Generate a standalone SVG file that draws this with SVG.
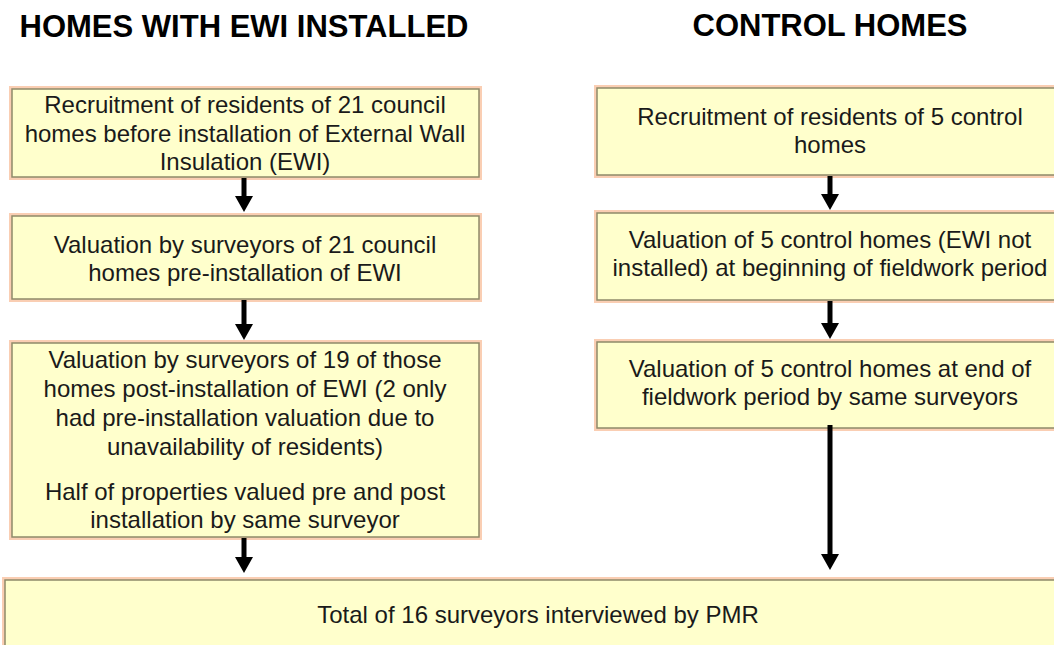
<svg xmlns="http://www.w3.org/2000/svg" width="1054" height="645" viewBox="0 0 1054 645">
<style>
.box{fill:#FFFFCC;stroke:#8f8a6a;stroke-width:1.5}
.glow{fill:none;stroke:#f9c2a0;stroke-width:6;stroke-opacity:0.8}
.t{font-family:"Liberation Sans",Arial,sans-serif;font-size:24px;fill:#1a1a1a;text-anchor:middle}
.h{font-family:"Liberation Sans",Arial,sans-serif;font-size:31px;font-weight:bold;fill:#000;text-anchor:middle}
.c{stroke:#000;stroke-width:5;fill:none}
.ah{fill:#000}
</style>
<rect width="1054" height="645" fill="#fff"/>
<g id="headers">
<text class="h" x="244" y="37">HOMES WITH EWI INSTALLED</text>
<text class="h" x="830" y="36">CONTROL HOMES</text>
</g>
<g id="L1">
<rect class="glow" x="12" y="89" width="467" height="88"/>
<rect class="box" x="12" y="89" width="467" height="88"/>
<text class="t" x="245" y="113">Recruitment of residents of 21 council</text>
<text class="t" x="245" y="142">homes before installation of External Wall</text>
<text class="t" x="245" y="170">Insulation (EWI)</text>
</g>
<g id="L2">
<rect class="glow" x="12" y="216" width="467" height="83"/>
<rect class="box" x="12" y="216" width="467" height="83"/>
<text class="t" x="245" y="253">Valuation by surveyors of 21 council</text>
<text class="t" x="245" y="281">homes pre-installation of EWI</text>
</g>
<g id="L3">
<rect class="glow" x="12" y="343" width="467" height="194"/>
<rect class="box" x="12" y="343" width="467" height="194"/>
<text class="t" x="245" y="368">Valuation by surveyors of 19 of those</text>
<text class="t" x="245" y="397">homes post-installation of EWI (2 only</text>
<text class="t" x="245" y="426">had pre-installation valuation due to</text>
<text class="t" x="245" y="455">unavailability of residents)</text>
<text class="t" x="245" y="500">Half of properties valued pre and post</text>
<text class="t" x="245" y="528">installation by same surveyor</text>
</g>
<g id="R1">
<rect class="glow" x="597" y="88" width="467" height="87"/>
<rect class="box" x="597" y="88" width="467" height="87"/>
<text class="t" x="830" y="125">Recruitment of residents of 5 control</text>
<text class="t" x="830" y="153">homes</text>
</g>
<g id="R2">
<rect class="glow" x="597" y="213" width="467" height="87"/>
<rect class="box" x="597" y="213" width="467" height="87"/>
<text class="t" x="830" y="248">Valuation of 5 control homes (EWI not</text>
<text class="t" x="830" y="276">installed) at beginning of fieldwork period</text>
</g>
<g id="R3">
<rect class="glow" x="597" y="342" width="467" height="86"/>
<rect class="box" x="597" y="342" width="467" height="86"/>
<text class="t" x="830" y="377">Valuation of 5 control homes at end of</text>
<text class="t" x="830" y="405">fieldwork period by same surveyors</text>
</g>
<g id="Bottom">
<rect class="glow" x="5" y="580" width="1070" height="80"/>
<rect class="box" x="5" y="580" width="1070" height="80"/>
<text class="t" x="538" y="623">Total of 16 surveyors interviewed by PMR</text>
</g>
<g id="connectors">
<line class="c" x1="244" y1="178" x2="244" y2="198"/>
<polygon class="ah" points="235,196 253,196 244,212"/>
<line class="c" x1="244" y1="300" x2="244" y2="326"/>
<polygon class="ah" points="235,324 253,324 244,340"/>
<line class="c" x1="244" y1="538" x2="244" y2="559"/>
<polygon class="ah" points="235,557 253,557 244,573"/>
<line class="c" x1="830" y1="176" x2="830" y2="196"/>
<polygon class="ah" points="821,194 839,194 830,210"/>
<line class="c" x1="830" y1="301" x2="830" y2="325"/>
<polygon class="ah" points="821,323 839,323 830,339"/>
<line class="c" x1="830" y1="425" x2="830" y2="556"/>
<polygon class="ah" points="821,554 839,554 830,570"/>
</g>
</svg>
